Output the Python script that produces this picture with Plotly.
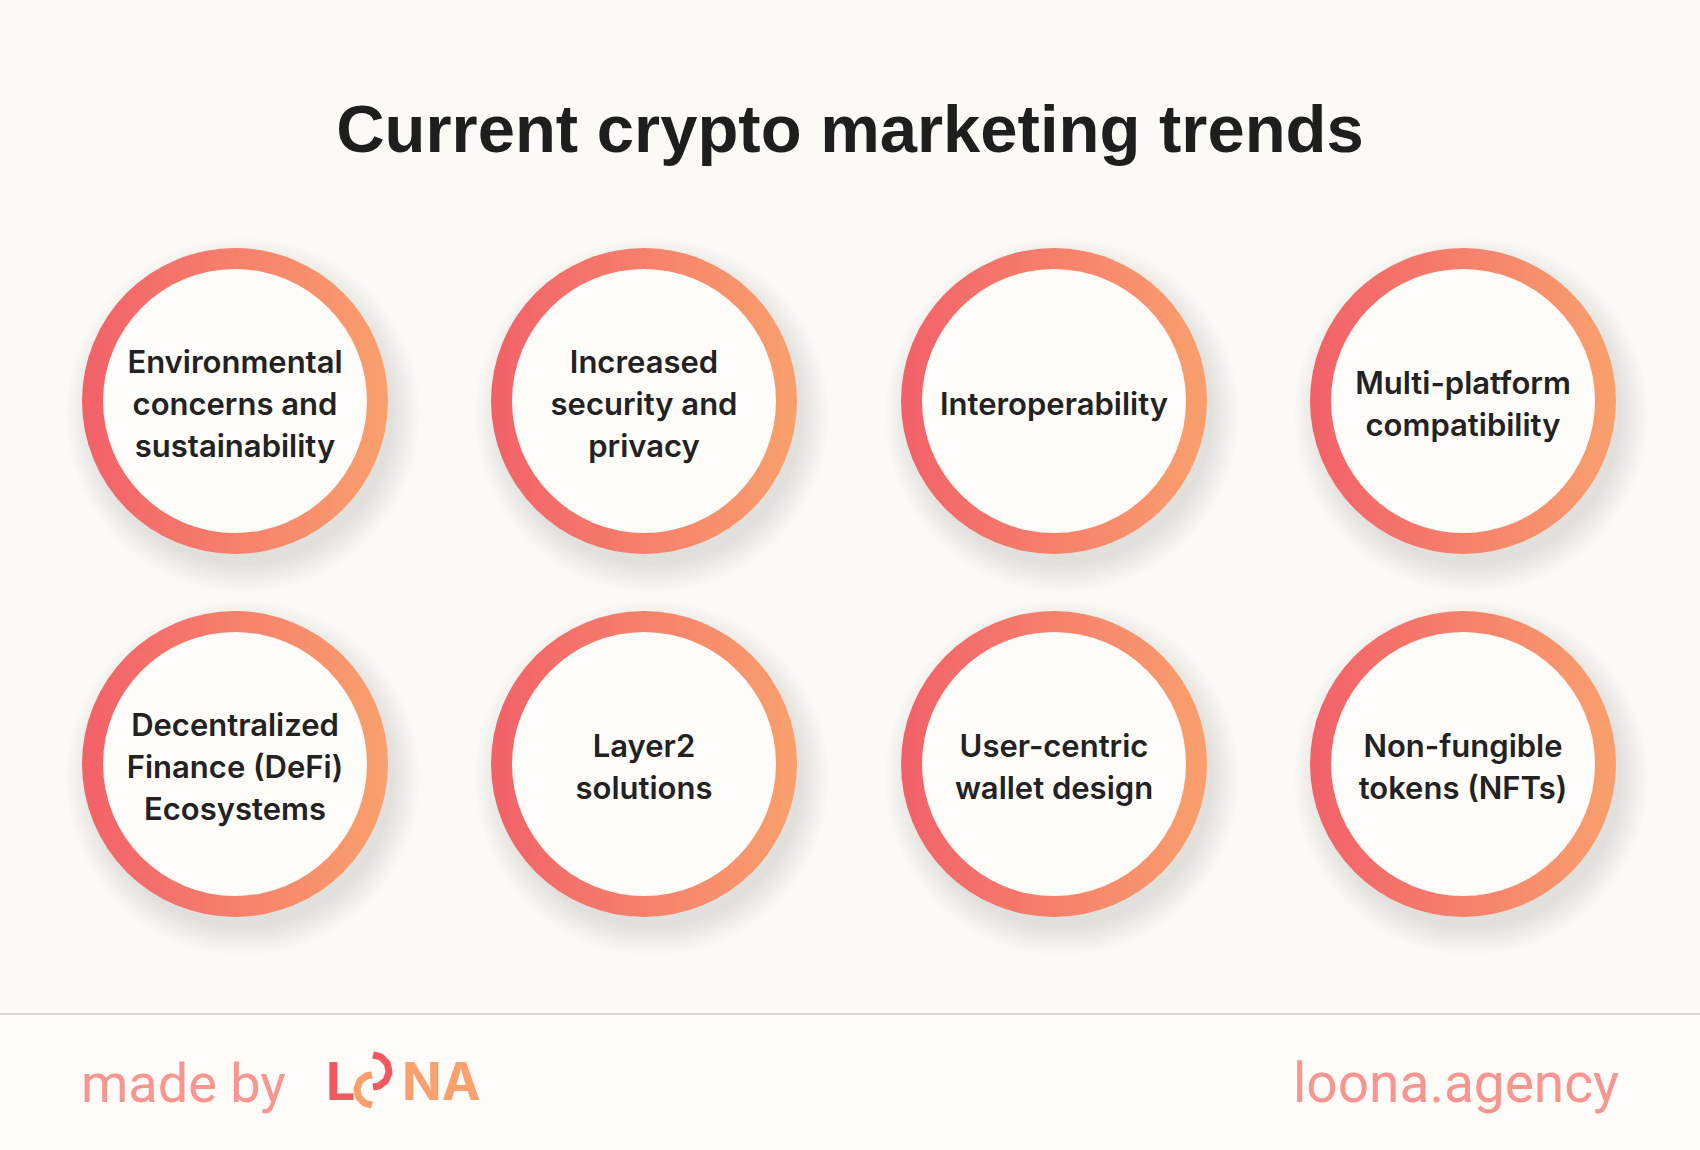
import numpy as np
import plotly.graph_objects as go

# chart content
title = "Current crypto marketing trends"
topics = [
    "Environmental<br>concerns and<br>sustainability",
    "Increased<br>security and<br>privacy",
    "Interoperability",
    "Multi-platform<br>compatibility",
    "Decentralized<br>Finance (DeFi)<br>Ecosystems",
    "Layer2<br>solutions",
    "User-centric<br>wallet design",
    "Non-fungible<br>tokens (NFTs)",
]
footer_left = "made by"
footer_right = "loona.agency"

# layout (pixels)
W, H = 1700, 1150
col_x = [235, 644, 1054, 1463]
row_y = [401, 764]
outer_d, inner_d = 306, 264
line_gap = 42

RED = "#f26169"
ORANGE = "#f9a06d"
BG = "#fcfaf7"

cx = [col_x[i % 4] for i in range(len(topics))]
cy = [row_y[i // 4] for i in range(len(topics))]

fig = go.Figure()

# soft drop shadow, down and to the right
for s in np.arange(300, 356, 4.5):
    fig.add_trace(go.Scatter(
        x=[v + 8 for v in cx], y=[v + 14 for v in cy], mode="markers",
        marker=dict(size=s, color="rgba(70,70,70,0.011)", line=dict(width=0)),
        hoverinfo="skip", showlegend=False))

# gradient ring
fig.add_trace(go.Scatter(
    x=cx, y=cy, mode="markers",
    marker=dict(size=outer_d, color=RED, line=dict(width=0),
                gradient=dict(type="horizontal", color=ORANGE)),
    hoverinfo="skip", showlegend=False))
# inner disc
fig.add_trace(go.Scatter(
    x=cx, y=cy, mode="markers",
    marker=dict(size=inner_d, color="#fefcf9", line=dict(width=0)),
    hoverinfo="skip", showlegend=False))

# labels, one line at a time for a looser line height
tx, ty, tt = [], [], []
for x0, y0, lab in zip(cx, cy, topics):
    lines = lab.split("<br>")
    n = len(lines)
    for i, ln in enumerate(lines):
        tx.append(x0)
        ty.append(y0 + 6 + (i - (n - 1) / 2) * line_gap)
        tt.append(ln)
fig.add_trace(go.Scatter(
    x=tx, y=ty, mode="text", text=tt, textposition="middle center",
    textfont=dict(family="Inter", size=31, color="#222222", weight=600),
    hoverinfo="skip", showlegend=False))

# logo "O" arcs
t = np.linspace(-np.pi / 2, np.pi / 2, 40)
fig.add_trace(go.Scatter(
    x=373 + 16 * np.cos(t), y=1071 + 16 * np.sin(t), mode="lines",
    line=dict(color="#f0595f", width=7), hoverinfo="skip", showlegend=False))
t2 = np.linspace(np.pi / 2, 3 * np.pi / 2, 40)
fig.add_trace(go.Scatter(
    x=372 + 15 * np.cos(t2), y=1090 + 15 * np.sin(t2), mode="lines",
    line=dict(color="#f9a06d", width=7), hoverinfo="skip", showlegend=False))

fig.update_layout(
    width=W, height=H,
    margin=dict(l=0, r=0, t=0, b=0),
    paper_bgcolor=BG, plot_bgcolor=BG,
    xaxis=dict(range=[0, W], visible=False, fixedrange=True),
    yaxis=dict(range=[H, 0], visible=False, fixedrange=True),
    title=dict(text=title, x=0.5, xanchor="center", y=1 - 129 / H, yanchor="middle",
               font=dict(family="Liberation Sans", size=67, color="#1e1e1e", weight=700)),
    shapes=[
        dict(type="rect", xref="x", yref="y", x0=0, x1=W, y0=1014, y1=H,
             fillcolor="#fffbf8", line=dict(width=0), layer="below"),
        dict(type="line", xref="x", yref="y", x0=0, x1=W, y0=1014, y1=1014,
             line=dict(color="#cfcccb", width=1.5)),
    ],
    annotations=[
        dict(text=footer_left, x=79, y=1083, xref="x", yref="y", xanchor="left",
             yanchor="middle", showarrow=False,
             font=dict(family="Roboto", size=54, color="#f7958f")),
        dict(text=footer_right, x=1621, y=1083, xref="x", yref="y", xanchor="right",
             yanchor="middle", showarrow=False,
             font=dict(family="Roboto", size=55, color="#f7958f")),
        dict(text="L", x=324, y=1081, xref="x", yref="y", xanchor="left",
             yanchor="middle", showarrow=False,
             font=dict(family="Inter", size=52, color="#f0595f", weight=700)),
        dict(text="NA", x=400, y=1081, xref="x", yref="y", xanchor="left",
             yanchor="middle", showarrow=False,
             font=dict(family="Inter", size=52, color="#f9a06d", weight=700)),
    ],
)

fig.write_html("out.html", config={"displayModeBar": False},
               post_script="document.body.style.margin='0';")
